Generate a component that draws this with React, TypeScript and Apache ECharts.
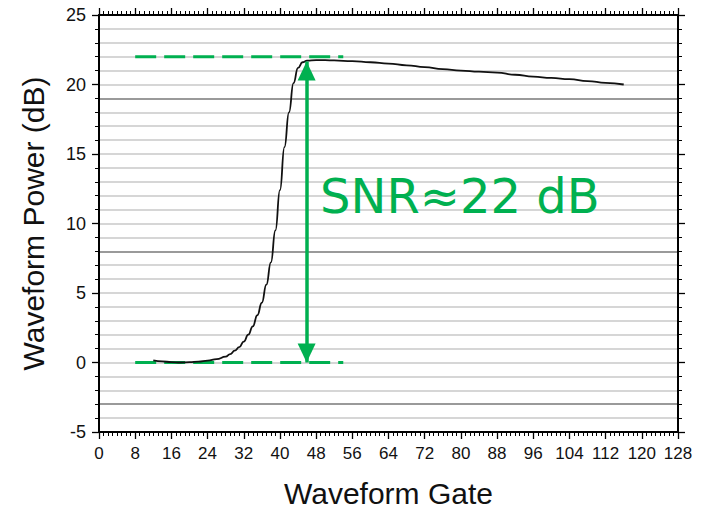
import React, { useEffect, useRef } from "react";
import * as echarts from "echarts";

// Waveform gates and power (dB)
const gates = [12, 14, 16, 18, 20, 22, 24, 26, 28, 29, 30, 31, 32, 33, 34, 35, 36, 37, 38, 39, 40, 41, 42, 43, 44, 45, 46, 48, 50, 52, 56, 60, 64, 68, 72, 76, 80, 84, 88, 92, 96, 100, 104, 108, 112, 116];
const power = [0.15, 0.08, 0.03, 0.0, 0.02, 0.06, 0.13, 0.24, 0.42, 0.6, 0.85, 1.1, 1.5, 2.0, 2.6, 3.4, 4.3, 5.6, 7.2, 9.5, 12.4, 15.5, 18.0, 20.1, 21.2, 21.6, 21.72, 21.75, 21.75, 21.73, 21.68, 21.6, 21.5, 21.38, 21.25, 21.1, 21.0, 20.92, 20.85, 20.7, 20.57, 20.47, 20.38, 20.25, 20.12, 20.0];

// annotation levels
const noiseLevel = 0;
const peakLevel = 22;
const guideFrom = 8;
const guideTo = 54;
const arrowGate = 45.9;
const arrowTop = 21.65;
const snrText = "SNR≈22 dB";
const snrAnchor = [48.86, 12.0];

const xTitle = "Waveform Gate";
const yTitle = "Waveform Power (dB)";

const GREEN = "#00b050";
const FONT = "'Liberation Sans', Arial, sans-serif";

export default function App() {
  const ref = useRef<HTMLDivElement>(null);
  useEffect(() => {
    document.body.style.margin = "0";
    const chart = echarts.init(ref.current!, null, { renderer: "svg" });
    const gridColors = Array.from({ length: 11 }, (_, i) => (i === 2 ? "#9a9a9a" : "#d6d6d6"));
    const axisLine = { show: true, onZero: false, lineStyle: { color: "#000", width: 2 } };
    const tick = { show: true, length: 7, lineStyle: { color: "#000", width: 1.3 } };
    const minor = (n: number) => ({ show: true, splitNumber: n, length: 4, lineStyle: { color: "#000", width: 1 } });
    const head = { symbol: "triangle", symbolSize: [18, 19], symbolOffset: [0, 9.5] };
    const option: any = {
      animation: false,
      backgroundColor: "#fff",
      grid: { left: 99, right: 29, top: 15, bottom: 80, containLabel: false },
      xAxis: [
        {
          type: "value", position: "bottom", min: 0, max: 128, interval: 8,
          axisLine, axisTick: tick, minorTick: minor(8),
          axisLabel: { fontSize: 17, margin: 13, color: "#111", fontFamily: FONT },
          splitLine: { show: false },
          name: xTitle, nameLocation: "middle", nameGap: 46,
          nameTextStyle: { fontSize: 30, color: "#111", fontFamily: FONT },
        },
        {
          type: "value", position: "top", min: 0, max: 128, interval: 8,
          axisLine, axisTick: tick, minorTick: minor(8),
          axisLabel: { show: false }, splitLine: { show: false },
        },
      ],
      yAxis: [
        {
          type: "value", position: "left", min: -5, max: 25, interval: 5,
          axisLine, axisTick: tick, minorTick: minor(5),
          axisLabel: { fontSize: 18, margin: 13, color: "#111", fontFamily: FONT },
          splitLine: { show: false },
          name: yTitle, nameLocation: "middle", nameGap: 51, nameRotate: 90,
          nameTextStyle: { fontSize: 30, color: "#111", fontFamily: FONT },
        },
        {
          type: "value", position: "right", min: -5, max: 25, interval: 5,
          axisLine, axisTick: tick, minorTick: minor(5),
          axisLabel: { show: false }, splitLine: { show: false },
        },
        {
          type: "value", position: "left", min: -5, max: 25, interval: 1,
          axisLine: { show: false }, axisTick: { show: false }, axisLabel: { show: false },
          splitLine: { show: true, lineStyle: { color: gridColors, width: 1.8 } },
        },
      ],
      series: [
        {
          type: "line", xAxisIndex: 0, yAxisIndex: 0, symbol: "none",
          data: [[guideFrom, peakLevel], [guideTo, peakLevel]],
          lineStyle: { color: GREEN, width: 3, type: [21, 8] }, silent: true, z: 3,
        },
        {
          type: "line", xAxisIndex: 0, yAxisIndex: 0, symbol: "none",
          data: [[guideFrom, noiseLevel], [guideTo, noiseLevel]],
          lineStyle: { color: GREEN, width: 3, type: [21, 8] }, silent: true, z: 3,
        },
        {
          type: "line", xAxisIndex: 0, yAxisIndex: 0, symbol: "none",
          smooth: 0.5, smoothMonotone: "x",
          data: gates.map((g, i) => [g, power[i]]),
          lineStyle: { color: "#111", width: 1.8 }, silent: true, z: 4,
        },
        {
          type: "line", xAxisIndex: 0, yAxisIndex: 0, data: [], z: 5,
          markLine: {
            silent: true, animation: false,
            label: { show: false },
            lineStyle: { color: GREEN, width: 3.5, type: "solid" },
            emphasis: { disabled: true },
            data: [[{ coord: [arrowGate, noiseLevel], ...head }, { coord: [arrowGate, arrowTop], ...head }]],
          },
        },
      ],
    };
    chart.setOption(option);
    const p = chart.convertToPixel({ xAxisIndex: 0, yAxisIndex: 0 }, snrAnchor) as number[];
    chart.setOption({
      graphic: [
        {
          type: "text", x: p[0], y: p[1], z: 10,
          style: { text: snrText, fill: GREEN, fontSize: 48, fontFamily: "'DejaVu Sans', sans-serif", align: "left", verticalAlign: "middle" },
        },
      ],
    });
    return () => chart.dispose();
  }, []);
  return <div ref={ref} style={{ width: 707, height: 513 }} />;
}
